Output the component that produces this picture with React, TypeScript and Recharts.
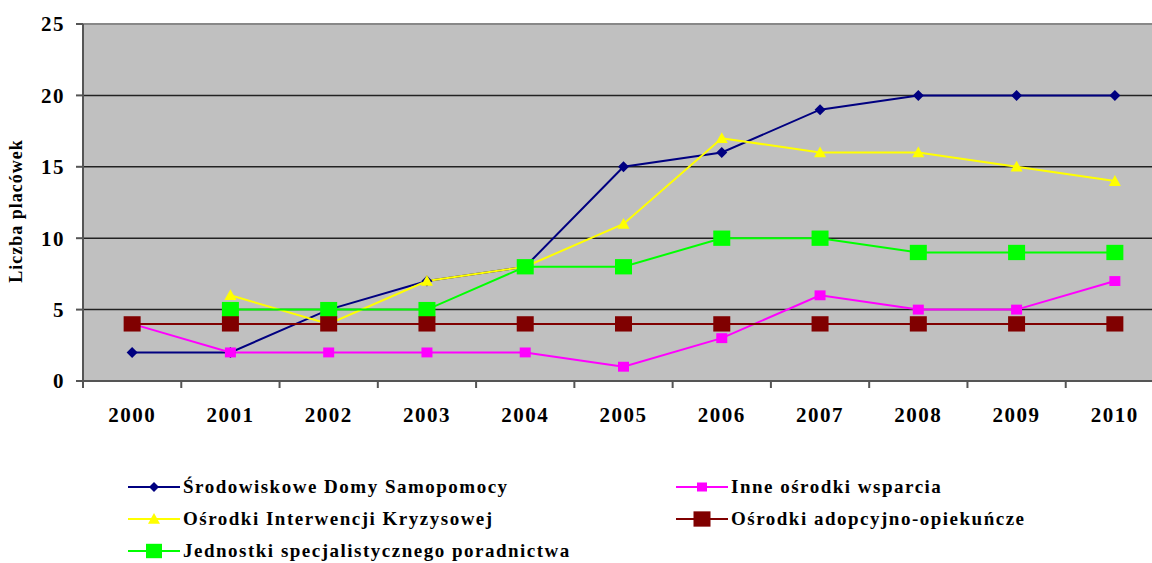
import React from 'react';
import { LineChart, Line, XAxis, YAxis, CartesianGrid, ReferenceLine } from 'recharts';

const years = ['2000', '2001', '2002', '2003', '2004', '2005', '2006', '2007', '2008', '2009', '2010'];
const domySamopomocy = [2, 2, 5, 7, 8, 15, 16, 19, 20, 20, 20];
const interwencjiKryzysowej = [null, 6, 4, 7, 8, 11, 17, 16, 16, 15, 14];
const poradnictwa = [null, 5, 5, 5, 8, 8, 10, 10, 9, 9, 9];
const inneOsrodki = [4, 2, 2, 2, 2, 1, 3, 6, 5, 5, 7];
const adopcyjne = [4, 4, 4, 4, 4, 4, 4, 4, 4, 4, 4];
const yTicks = [0, 5, 10, 15, 20, 25];

const data = years.map((year, i) => ({
  year,
  sds: domySamopomocy[i],
  oik: interwencjiKryzysowej[i],
  jsp: poradnictwa[i],
  inne: inneOsrodki[i],
  adop: adopcyjne[i],
}));

const FONT = '"Liberation Serif", "Times New Roman", serif';
const CHART_W = 1180;
const CHART_H = 563;
const M_RIGHT = 16;
const Y_W = 83;
const PLOT_W = CHART_W - M_RIGHT - Y_W;
const BAND = PLOT_W / years.length;
const AXIS_Y = 381;

type Shape = 'diamond' | 'square' | 'triangle';

function marker(shape: Shape, size: number, color: string, cx: number, cy: number, key?: React.Key) {
  const h = size / 2;
  if (shape === 'diamond') {
    return <path key={key} d={`M${cx},${cy - h}L${cx + h},${cy}L${cx},${cy + h}L${cx - h},${cy}Z`} fill={color} />;
  }
  if (shape === 'triangle') {
    return <path key={key} d={`M${cx},${cy - h}L${cx + h},${cy + h * 0.8}L${cx - h},${cy + h * 0.8}Z`} fill={color} />;
  }
  return <rect key={key} x={cx - h} y={cy - h * 0.9} width={size} height={size * 0.9} fill={color} />;
}

const makeDot = (shape: Shape, size: number, color: string) => (props: any) => {
  const { cx, cy, index, value } = props;
  if (value == null || cx == null || cy == null) return <g key={`e${index}`} />;
  return marker(shape, size, color, cx, cy, `d${index}`);
};

const XTick = (props: any) => {
  const { x, payload, index } = props;
  return (
    <g>
      <line x1={x - BAND / 2} x2={x - BAND / 2} y1={AXIS_Y} y2={AXIS_Y + 7} stroke="#555" strokeWidth={2} />
      {index === years.length - 1 && (
        <line x1={x + BAND / 2} x2={x + BAND / 2} y1={AXIS_Y} y2={AXIS_Y + 7} stroke="#555" strokeWidth={2} />
      )}
      <text x={x} y={422} textAnchor="middle" fontFamily={FONT} fontWeight="bold" fontSize={21} letterSpacing={1.5} fill="#000">
        {payload.value}
      </text>
    </g>
  );
};

const series = [
  { key: 'sds', name: 'Środowiskowe Domy Samopomocy', color: '#000080', shape: 'diamond' as Shape, size: 11, lsize: 10 },
  { key: 'oik', name: 'Ośrodki Interwencji Kryzysowej', color: '#FFFF00', shape: 'triangle' as Shape, size: 12, lsize: 12 },
  { key: 'jsp', name: 'Jednostki specjalistycznego poradnictwa', color: '#00FF00', shape: 'square' as Shape, size: 17, lsize: 16 },
  { key: 'inne', name: 'Inne ośrodki wsparcia', color: '#FF00FF', shape: 'square' as Shape, size: 11, lsize: 10 },
  { key: 'adop', name: 'Ośrodki adopcyjno-opiekuńcze', color: '#800000', shape: 'square' as Shape, size: 17, lsize: 17 },
];

const legendPos: Record<string, { left: number; top: number }> = {
  sds: { left: 128, top: 487 },
  oik: { left: 128, top: 519 },
  jsp: { left: 128, top: 551 },
  inne: { left: 676, top: 487 },
  adop: { left: 676, top: 519 },
};

export default function App() {
  return (
    <div style={{ position: 'absolute', left: 0, top: 0, width: 1152, height: 563, overflow: 'hidden', background: '#fff' }}>
      <LineChart width={CHART_W} height={CHART_H} data={data} margin={{ top: 24, right: M_RIGHT, bottom: 0, left: 0 }}>
        <CartesianGrid vertical={false} fill="#C0C0C0" stroke="#222" strokeWidth={1.5} />
        <XAxis
          dataKey="year"
          height={CHART_H - AXIS_Y}
          padding={{ left: BAND / 2, right: BAND / 2 }}
          axisLine={{ stroke: '#555', strokeWidth: 2 }}
          tickLine={false}
          tick={<XTick />}
          interval={0}
        />
        <YAxis
          width={Y_W}
          domain={[0, 25]}
          ticks={yTicks}
          interval={0}
          tickSize={7}
          tickMargin={11}
          axisLine={{ stroke: '#555', strokeWidth: 2 }}
          tickLine={{ stroke: '#555', strokeWidth: 2 }}
          tick={{ fontFamily: FONT, fontWeight: 'bold', fontSize: 21, letterSpacing: 1.5, fill: '#000' }}
          label={{
            content: () => (
              <text
                x={22}
                y={211}
                transform="rotate(-90, 22, 211)"
                textAnchor="middle"
                fontFamily={FONT}
                fontWeight="bold"
                fontSize={18}
                letterSpacing={1}
                fill="#000"
              >
                Liczba placówek
              </text>
            ),
          }}
        />
        <ReferenceLine y={25} stroke="#888" strokeWidth={2} />
        {series.map((s) => (
          <Line
            key={s.key}
            dataKey={s.key}
            name={s.name}
            stroke={s.color}
            strokeWidth={2}
            dot={makeDot(s.shape, s.size, s.color)}
            activeDot={false}
            isAnimationActive={false}
          />
        ))}
      </LineChart>
      {series.map((s) => (
        <div
          key={s.key}
          style={{
            position: 'absolute',
            left: legendPos[s.key].left,
            top: legendPos[s.key].top - 12,
            height: 24,
            display: 'flex',
            alignItems: 'center',
            whiteSpace: 'nowrap',
          }}
        >
          <svg width={52} height={24} style={{ marginRight: 3 }}>
            <line x1={0} x2={52} y1={12} y2={12} stroke={s.color} strokeWidth={2} />
            {marker(s.shape, s.lsize, s.color, 26, 12)}
          </svg>
          <span style={{ fontFamily: FONT, fontWeight: 'bold', fontSize: 19, letterSpacing: 1.5, color: '#000' }}>{s.name}</span>
        </div>
      ))}
    </div>
  );
}
